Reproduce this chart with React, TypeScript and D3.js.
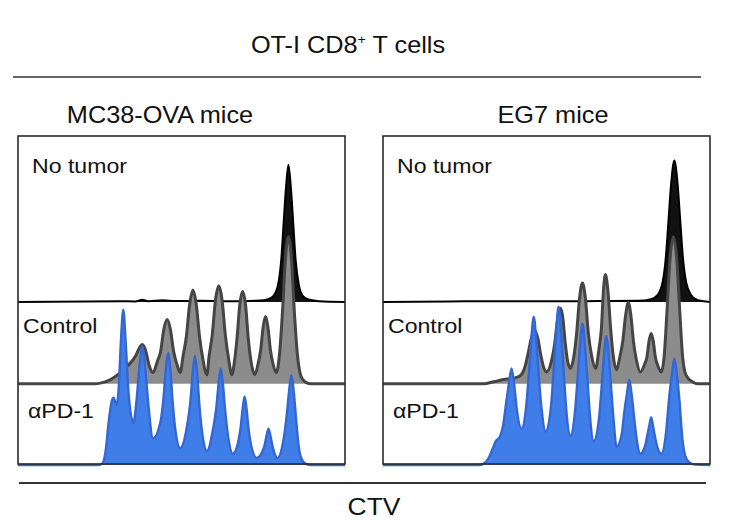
import React from 'react';
import * as d3 from 'd3';

// CTV histograms: [CTV channel (0-1000), relative count]
const mc38NoTumor: [number, number][] = [
  [0, 0], [313, 0.5], [359, 0.3], [380, 1.5], [398, 0.5], [444, 1.2], [480, 0.6], [556, 0.8],
  [648, 0.5], [739, 1], [765, 2], [780, 4], [795, 12], [805, 30], [812, 55], [819, 80], [827, 98],
  [835, 80], [842, 55], [849, 30], [859, 12], [872, 4], [891, 1.5], [921, 0.5], [1000, 0],
];
const mc38Control: [number, number][] = [
  [0, 0], [237, 0], [252, 0.5], [283, 3], [313, 8], [344, 15], [360, 20], [370, 25], [380, 28],
  [390, 24], [400, 14], [413, 8],
  [426, 16], [436, 23], [446, 39], [456, 46], [466, 39], [476, 23], [486, 14], [496, 8],
  [505, 20], [515, 34], [525, 57], [535, 67], [545, 57], [555, 34], [565, 18], [578, 6.5],
  [584, 19], [594, 35], [604, 60], [614, 70], [624, 60], [634, 35], [644, 18], [654, 6.5],
  [662, 16], [670, 33], [678, 56], [687, 66], [696, 56], [704, 33], [712, 17], [724, 6.5],
  [734, 14], [742, 24], [750, 41], [757, 48], [764, 41], [772, 24], [780, 14], [790, 8],
  [800, 22], [809, 52], [818, 90], [827, 105], [836, 90], [845, 52], [854, 22], [866, 5],
  [880, 1], [897, 0], [1000, 0],
];
const mc38APD1: [number, number][] = [
  [0, 0], [246, 0], [258, 1], [268, 10], [277, 30], [286, 45], [292, 48], [301, 43], [308, 55],
  [314, 85], [322, 111], [330, 85], [337, 55], [344, 38], [353, 30],
  [362, 45], [372, 72], [380, 85], [388, 72], [398, 45], [413, 19],
  [435, 30], [445, 48], [452, 68], [459, 80], [466, 68], [473, 45], [483, 22], [496, 12],
  [517, 28], [527, 45], [534, 65], [541, 78], [548, 65], [555, 42], [565, 20], [578, 10],
  [596, 25], [606, 40], [613, 57], [620, 69], [627, 57], [634, 38], [644, 18], [657, 8],
  [673, 16], [681, 27], [687, 40], [693, 49], [699, 40], [705, 26], [715, 12], [730, 5],
  [748, 10], [755, 15], [761, 22], [766, 26], [771, 22], [777, 15], [785, 8], [793, 5],
  [812, 18], [822, 36], [829, 53], [836, 64], [843, 53], [850, 34], [858, 14], [866, 5],
  [879, 1], [897, 0], [1000, 0],
];

const eg7NoTumor: [number, number][] = [
  [0, 0], [201, 0.3], [354, 0.5], [506, 0.4], [659, 0.6], [781, 0.8], [820, 2], [840, 5],
  [855, 14], [865, 32], [873, 58], [881, 84], [891, 101], [901, 84], [909, 58], [917, 32],
  [927, 14], [942, 5], [960, 1.5], [980, 0.5], [1000, 0],
];
const eg7Control: [number, number][] = [
  [0, 0], [308, 0], [339, 1.5], [369, 3], [400, 4], [421, 6], [434, 12], [444, 22], [454, 33],
  [464, 38], [474, 32], [483, 20], [491, 12], [500, 8.5],
  [515, 16], [524, 27], [534, 46], [543, 54], [550, 47], [557, 30], [564, 17], [573, 11],
  [584, 20], [592, 36], [601, 61], [610, 72], [619, 61], [628, 36], [638, 20], [650, 11],
  [660, 24], [668, 40], [674, 66], [680, 78], [688, 66], [696, 40], [704, 20], [714, 10],
  [725, 20], [733, 30], [742, 49], [750, 58], [758, 49], [766, 30], [775, 17], [787, 8.5],
  [800, 14], [807, 19], [814, 31], [820, 36], [826, 31], [833, 19], [842, 12], [851, 8.5],
  [860, 20], [868, 50], [878, 90], [888, 105], [898, 90], [908, 50], [916, 20], [927, 6],
  [946, 1.5], [964, 0], [1000, 0],
];
const eg7APD1: [number, number][] = [
  [0, 0], [293, 0], [308, 1], [323, 5], [336, 12], [345, 17], [357, 20], [367, 28], [377, 45],
  [385, 58], [393, 69], [401, 58], [409, 40], [424, 26],
  [437, 40], [446, 65], [453, 88], [461, 106], [469, 88], [476, 65], [485, 40], [497, 24],
  [513, 40], [521, 65], [529, 94], [537, 113], [545, 94], [553, 65], [561, 38], [573, 21],
  [587, 38], [595, 62], [602, 84], [610, 101], [618, 84], [625, 62], [633, 35], [644, 17],
  [660, 32], [668, 54], [675, 76], [683, 92], [691, 76], [698, 54], [706, 30], [714, 13],
  [730, 22], [738, 38], [746, 51], [753, 61], [760, 51], [768, 34], [776, 18], [787, 8],
  [802, 14], [809, 22], [815, 29], [820, 34], [825, 29], [831, 21], [840, 12], [851, 8],
  [866, 24], [875, 48], [883, 64], [891, 76], [899, 64], [907, 45], [915, 20], [925, 6],
  [936, 2], [949, 0.5], [1000, 0],
];

const groupLabels = ['No tumor', 'Control', '\u03b1PD-1'];
const layerOffsets = [116.5, 58, 0]; // stacking offset of each histogram, in count units
const layerFill = ['#111111', '#8c8c8c', '#3f7de8'];
const layerStroke = ['#000000', '#454545', '#3467d2'];
const layerWidth = [2, 3, 2.4];

const panels = [
  { title: 'MC38-OVA mice', left: 18, titleX: 160, series: [mc38NoTumor, mc38Control, mc38APD1] },
  { title: 'EG7 mice', left: 383, titleX: 553, series: [eg7NoTumor, eg7Control, eg7APD1] },
];

const FONT = '"Liberation Sans", Arial, Helvetica, sans-serif';
const BOX_W = 327;
const BOX_TOP = 136;
const BOX_BOTTOM = 464;

const Label = ({ x, y, size, anchor = 'start', children }: any) => (
  <text
    transform={`translate(${x},${y}) scale(1.1,1)`}
    fontFamily={FONT}
    fontSize={size}
    fill="#111"
    textAnchor={anchor}
  >
    {children}
  </text>
);

const Panel = ({ p }: any) => {
  const x = d3.scaleLinear().domain([0, 1000]).range([p.left, p.left + BOX_W]);
  const y = d3.scaleLinear().domain([0, 235]).range([465, 136]);
  const labelY = [173, 333, 418];
  const labelDx = [14, 5, 10];

  return (
    <g>
      {p.series.map((s: [number, number][], i: number) => {
        const off = layerOffsets[i];
        const area = d3.area<[number, number]>()
          .x(d => x(d[0]))
          .y0(y(off))
          .y1(d => y(d[1] + off))
          .curve(d3.curveMonotoneX);
        const line = d3.line<[number, number]>()
          .x(d => x(d[0]))
          .y(d => y(d[1] + off))
          .curve(d3.curveMonotoneX);
        return (
          <g key={i}>
            <path d={area(s) || ''} fill={layerFill[i]} />
            <path d={line(s) || ''} fill="none" stroke={layerStroke[i]} strokeWidth={layerWidth[i]} strokeLinejoin="round" />
          </g>
        );
      })}
      <rect x={p.left} y={BOX_TOP} width={BOX_W} height={BOX_BOTTOM - BOX_TOP} fill="none" stroke="#2b2b2b" strokeWidth={1.6} />
      {groupLabels.map((g, i) => (
        <Label key={g} x={p.left + labelDx[i]} y={labelY[i]} size={21}>{g}</Label>
      ))}
      <Label x={p.titleX} y={123} size={23} anchor="middle">{p.title}</Label>
    </g>
  );
};

export default function App() {
  return (
    <svg width={735} height={526} style={{ position: 'absolute', left: 0, top: 0, background: '#fff' }}>
      <rect width={735} height={526} fill="#fff" />
      <Label x={348} y={53} size={23} anchor="middle">
        OT-I CD8<tspan fontSize={13} dy={-9}>+</tspan><tspan dy={9}> T cells</tspan>
      </Label>
      <line x1={13} x2={701} y1={77} y2={77} stroke="#666" strokeWidth={2} />
      {panels.map(p => <Panel key={p.title} p={p} />)}
      <line x1={19} x2={706} y1={483} y2={483} stroke="#333" strokeWidth={1.8} />
      <Label x={374} y={515} size={24} anchor="middle">CTV</Label>
    </svg>
  );
}
